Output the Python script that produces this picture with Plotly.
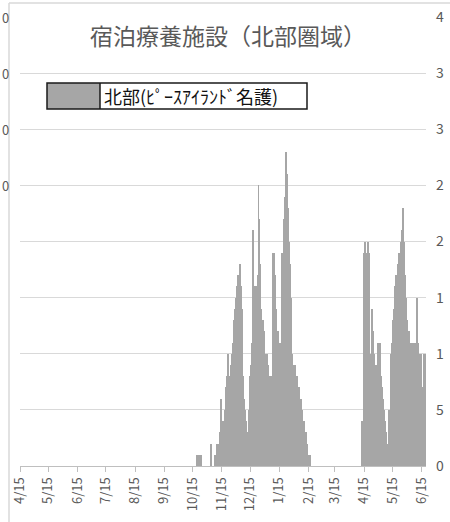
import datetime as dt
import plotly.graph_objects as go

# ---------------- data ----------------
axis_start = "2020-04-15"
axis_end = "2021-06-19 16:00"

early_dates = ["2020-10-20", "2020-10-21", "2020-10-22", "2020-10-23", "2020-10-24", "2020-11-04"]
early_values = [1, 1, 1, 1, 1, 2]

wave1_start = "2020-11-08"
wave1_values = [1, 1, 2, 2, 2, 3, 6, 4, 4, 4, 5, 6, 7, 8, 10, 8, 7, 9, 10, 11,
                13, 14, 15, 16, 17, 17, 18, 16, 14, 11, 8, 6, 5, 4, 3, 3, 5, 8, 9, 11,
                21, 16, 16, 16, 16, 17, 25, 22, 18, 14, 11, 13, 12, 10, 10, 10, 9, 8, 8, 8,
                8, 19, 19, 17, 16, 14, 12, 12, 11, 11, 11, 19, 19, 22, 24, 28, 26, 23, 20, 18,
                15, 12, 10, 9, 9, 9, 8, 8, 7, 7, 6, 6, 5, 4, 4, 3, 3, 2, 2, 1, 1, 1]

wave2_start = "2021-04-13"
wave2_values = [4, 4, 19, 20, 19, 19, 20, 19, 10, 10, 14, 12, 11, 10, 9, 9, 9, 11, 11, 11,
                8, 7, 6, 5, 4, 3, 2, 2, 5, 5, 5, 10, 11, 13, 14, 16, 17, 16, 18, 19,
                18, 20, 21, 23, 20, 17, 15, 13, 13, 12, 12, 11, 11, 11, 11, 11, 11, 11, 15, 11,
                10, 10, 10, 7, 7, 7, 10, 10]

series_name = "北部(ﾋﾟｰｽｱｲﾗﾝﾄﾞ名護)"
title_text = "宿泊療養施設（北部圏域）"
right_tickvals = [0, 5, 10, 15, 20, 25, 30, 35, 40]
right_ticktext = ["0", "5", "1", "1", "2", "2", "3", "3", "4"]
left_ticktext = ["0", "0", "0", "0"]
left_tickvals = [40, 35, 30, 25]


def run_dates(start, n):
    d0 = dt.date.fromisoformat(start)
    return [(d0 + dt.timedelta(days=i)).isoformat() for i in range(n)]


dates = early_dates + run_dates(wave1_start, len(wave1_values)) + run_dates(wave2_start, len(wave2_values))
values = early_values + wave1_values + wave2_values

# ---------------- layout helpers ----------------
W, H = 450, 522
L, R, T, B = 20, 24, 17, 56
PW, PH = W - L - R, H - T - B


def px(x):
    return (x - L) / PW


def py(y):
    return (H - B - y) / PH


BAR = "#a6a6a6"
GRID = "#d9d9d9"
TXT = "#595959"
FONT = "Noto Sans CJK JP"

fig = go.Figure()
fig.add_trace(go.Bar(x=dates, y=values, name=series_name, marker=dict(color=BAR, line=dict(width=0)),
                     width=86400000, showlegend=False))

fig.update_layout(
    width=W, height=H,
    margin=dict(l=L, r=R, t=T, b=B, autoexpand=False),
    paper_bgcolor="white", plot_bgcolor="white",
    bargap=0,
    font=dict(family=FONT, color=TXT),
    xaxis=dict(type="date", range=[axis_start, axis_end], tick0="2020-04-15", dtick="M1",
               tickformat="%-m/%-d", tickangle=-90, ticks="outside", ticklen=5, tickcolor="#bfbfbf",
               showgrid=False, showline=True, linecolor="#bfbfbf", linewidth=1, automargin=False,
               tickfont=dict(size=13, color=TXT, family=FONT)),
    yaxis=dict(side="right", range=[0, 40], tickvals=right_tickvals, ticktext=right_ticktext,
               showgrid=True, gridcolor=GRID, gridwidth=1, zeroline=False, showline=False,
               automargin=False,
               ticks="", ticklabelstandoff=9, tickfont=dict(size=14, color=TXT, family=FONT)),
)

# left axis labels at the picture edge
for v, t in zip(left_tickvals, left_ticktext):
    fig.add_annotation(xref="paper", yref="y", x=px(0), y=v, text=t, showarrow=False,
                       xanchor="left", yanchor="middle", font=dict(size=13, color=TXT, family=FONT))

# title
fig.add_annotation(xref="paper", yref="paper", x=px(228), y=py(35), text=title_text, showarrow=False,
                   xanchor="center", yanchor="middle", font=dict(size=23, color=TXT, family=FONT))

# legend drawn as a boxed swatch + label
fig.add_shape(type="rect", xref="paper", yref="paper", x0=px(47), x1=px(100), y0=py(109), y1=py(83),
              fillcolor=BAR, line=dict(width=0), layer="above")
fig.add_shape(type="rect", xref="paper", yref="paper", x0=px(47), x1=px(307), y0=py(109), y1=py(83),
              fillcolor="rgba(0,0,0,0)", line=dict(color="#1a1a1a", width=1.5), layer="above")
fig.add_shape(type="line", xref="paper", yref="paper", x0=px(100), x1=px(100), y0=py(109), y1=py(83),
              line=dict(color="#1a1a1a", width=1.5), layer="above")
fig.add_annotation(xref="paper", yref="paper", x=px(102), y=py(96), text=series_name, showarrow=False,
                   xanchor="left", yanchor="middle", font=dict(size=18, color="#111111", family=FONT))

# chart-area border visible in the crop
fig.add_shape(type="line", xref="paper", yref="paper", x0=px(9), x1=px(450), y0=py(3), y1=py(3),
              line=dict(color=GRID, width=1.5), layer="below")
fig.add_shape(type="line", xref="paper", yref="paper", x0=px(9), x1=px(9), y0=py(3), y1=py(522),
              line=dict(color=GRID, width=1.5), layer="below")

fig.write_html("out.html", config={"displayModeBar": False},
               post_script="document.body.style.margin='0';document.body.style.overflow='hidden';")
